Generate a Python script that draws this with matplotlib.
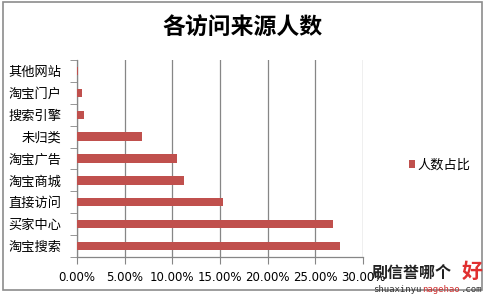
import matplotlib
matplotlib.use('Agg')
from matplotlib import pyplot as plt
from matplotlib.patches import Rectangle
import numpy as np

plt.rcParams['font.family'] = ['Noto Sans CJK SC', 'DejaVu Sans']

# data: bottom to top
sources = ['淘宝搜索', '买家中心', '直接访问', '淘宝商城', '淘宝广告',
           '未归类', '搜索引擎', '淘宝门户', '其他网站']
share = [27.6, 26.9, 15.3, 11.2, 10.5, 6.8, 0.76, 0.52, 0.1]
x_ticks = [0, 5, 10, 15, 20, 25, 30]

bar_color = '#C0504D'
grid_color = '#868686'

fig = plt.figure(figsize=(4.92, 2.99), dpi=100)
fig.patch.set_facecolor('white')

# outer chart frame
fig.patches.append(Rectangle((3 / 492, 1 - 290 / 299), 479 / 492, 288 / 299,
                             transform=fig.transFigure, fill=False,
                             edgecolor='#8c8c8c', linewidth=1.2))

ax = fig.add_axes([77 / 492, 1 - 257 / 299, 286 / 492, 197 / 299])
y = np.arange(len(sources))
ax.barh(y, share, height=0.38, color=bar_color, label='人数占比', zorder=3)

ax.set_xlim(0, 30)
ax.set_ylim(-0.5, len(sources) - 0.5)
ax.set_xticks(x_ticks)
ax.set_xticklabels(['%.2f%%' % v for v in x_ticks], fontsize=8.5,
                   family=['DejaVu Sans'])
ax.set_yticks(y)
ax.set_yticklabels(sources, fontsize=9.5)
ax.set_yticks(np.arange(-0.5, len(sources)), minor=True)
ax.tick_params(axis='y', which='major', length=0, pad=11)
ax.tick_params(axis='y', which='minor', length=5, color=grid_color, direction='out')
ax.tick_params(axis='x', length=5, color=grid_color, direction='out', pad=5)

ax.grid(axis='x', color=grid_color, linewidth=0.9, zorder=0)
for s in ['top', 'right']:
    ax.spines[s].set_visible(False)
for s in ['left', 'bottom']:
    ax.spines[s].set_color(grid_color)
    ax.spines[s].set_linewidth(0.9)

fig.text(243 / 492, 1 - 28 / 299, '各访问来源人数', ha='center', va='center',
         fontsize=16.5, fontweight='bold')

ax.legend(loc='center left', bbox_to_anchor=(397 / 492, 1 - 165 / 299),
          bbox_transform=fig.transFigure, frameon=False, fontsize=9.5,
          handlelength=0.5, handleheight=0.5, handletextpad=0.15)

# watermark
fig.text(372 / 492, 1 - 273 / 299, '刷信誉哪个', fontsize=11.5, fontweight='bold',
         color='#222222', va='center')
fig.text(462 / 492, 1 - 271 / 299, '好', fontsize=15, fontweight='bold',
         color='#e03030', va='center')
mono = 'DejaVu Sans Mono'
fig.text(373 / 492, 1 - 289 / 299, 'shuaxinyu', fontsize=6.5, family=mono,
         color='#333333', va='center')
fig.text(422 / 492, 1 - 289 / 299, 'nagehao', fontsize=6.5, family=mono,
         color='#d03030', va='center')
fig.text(461 / 492, 1 - 289 / 299, '.com', fontsize=6.5, family=mono,
         color='#333333', va='center')

fig.savefig('out.png', dpi=100)
